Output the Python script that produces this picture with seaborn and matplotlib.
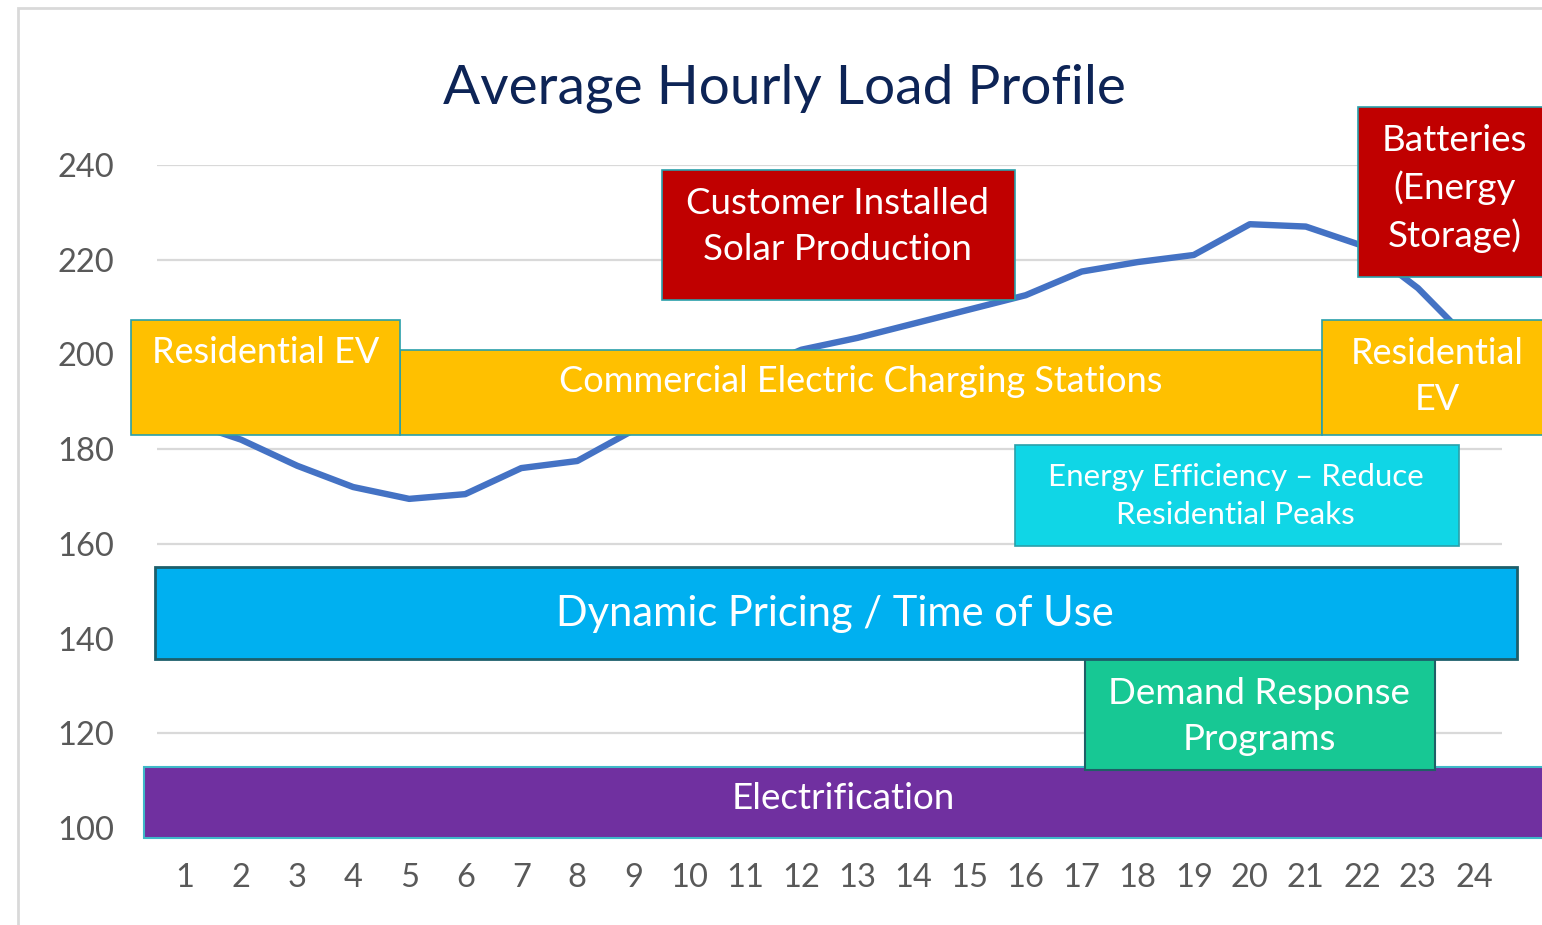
import matplotlib
matplotlib.use("Agg")
import matplotlib.pyplot as plt
import seaborn as sns
import pandas as pd
from matplotlib.patches import Rectangle

# ---- data ----
hours = list(range(1, 25))
load = [186, 182, 176.5, 172, 169.5, 170.5, 176, 177.5, 184, 190, 196, 201,
        203.5, 206.5, 209.5, 212.5, 217.5, 219.5, 221, 227.5, 227, 223, 214, 202]
y_ticks = [100, 120, 140, 160, 180, 200, 220, 240]
title = "Average Hourly Load Profile"

# annotation boxes: (label, x0, x1, y0, y1, face, edge, lw, fontsize, text_x, text_y)
boxes = [
    ("Electrification", 0.27, 27, 97.9, 112.9, "#7030A0", "#3FB8C8", 1.5, 26.5, 12.74, 106.3),
    ("Demand Response\nPrograms", 17.06, 23.31, 112.2, 135.7, "#17C894", "#1F5F66", 1.5, 26.5, 20.17, 123.5),
    ("Dynamic Pricing / Time of Use", 0.47, 24.77, 135.7, 155.1, "#00B0F0", "#1D5F6B", 2.0, 30, 12.6, 145.2),
    ("Energy Efficiency \u2013 Reduce\nResidential Peaks", 15.81, 23.73, 159.5, 180.9, "#10D6E6", "#2AA0AA", 1.2, 22.5, 19.75, 170.1),
    ("Commercial Electric Charging Stations", 4.84, 21.29, 183.0, 200.9, "#FFC000", "#2AA0AA", 1.2, 26, 13.05, 194.2),
    ("Residential EV", 0.04, 4.84, 183.0, 207.3, "#FFC000", "#2AA0AA", 1.2, 26, 2.445, 200.5),
    ("Residential\nEV", 21.29, 27, 183.0, 207.3, "#FFC000", "#2AA0AA", 1.2, 26, 23.34, 195.4),
    ("Customer Installed\nSolar Production", 9.51, 15.81, 211.5, 238.9, "#C00000", "#2AA0AA", 1.2, 26.5, 12.65, 227.0),
    ("Batteries\n(Energy\nStorage)", 21.93, 27, 216.3, 252.2, "#C00000", "#2AA0AA", 1.2, 26.5, 23.65, 235.1),
]

sns.set_theme(style="white")
plt.rcParams['font.family'] = ['Lato', 'DejaVu Sans']

fig = plt.figure(figsize=(15.42, 9.25), dpi=100)
fig.patch.set_facecolor("white")
# outer chart frame (left / top)
fig.add_artist(Rectangle((18 / 1542, -0.1), 2.0, 1.1 - 8 / 925, transform=fig.transFigure,
                         fill=False, edgecolor="#D9D9D9", linewidth=2))

ax = fig.add_axes([157 / 1542, 1 - 828 / 925, 1345 / 1542, (828 - 165) / 925])
df = pd.DataFrame({"hour": hours, "load": load})
sns.lineplot(data=df, x="hour", y="load", ax=ax, color="#4472C4", linewidth=4.6, zorder=2,
             solid_joinstyle="round")

ax.set_xlim(0.5, 24.5)
ax.set_ylim(100, 240)
ax.set_yticks(y_ticks)
ax.set_yticklabels([str(v) for v in y_ticks])
ax.set_xticks(hours)
ax.set_xticklabels([str(h) for h in hours])
ax.yaxis.grid(True, color="#D9D9D9", linewidth=1.6, zorder=0)
ax.set_axisbelow(True)
for s in ax.spines.values():
    s.set_visible(False)
ax.tick_params(axis="y", length=0, pad=31, labelsize=23.5, labelcolor="#595959")
ax.tick_params(axis="x", length=0, pad=25, labelsize=23.5, labelcolor="#595959")
ax.set_xlabel("")
ax.set_ylabel("")

for (label, x0, x1, y0, y1, face, edge, lw, fs, tx, ty) in boxes:
    ax.add_patch(Rectangle((x0, y0), x1 - x0, y1 - y0, facecolor=face, edgecolor=edge,
                           linewidth=lw, zorder=3, clip_on=False))
    ax.text(tx, ty, label, ha="center", va="center", color="white", fontsize=fs,
            zorder=4, linespacing=1.47, clip_on=False)

fig.text(784 / 1542, 1 - 88 / 925, title, ha="center", va="center", fontsize=39.6,
         color="#0D2456")

fig.savefig("out.png", dpi=100, facecolor="white")
